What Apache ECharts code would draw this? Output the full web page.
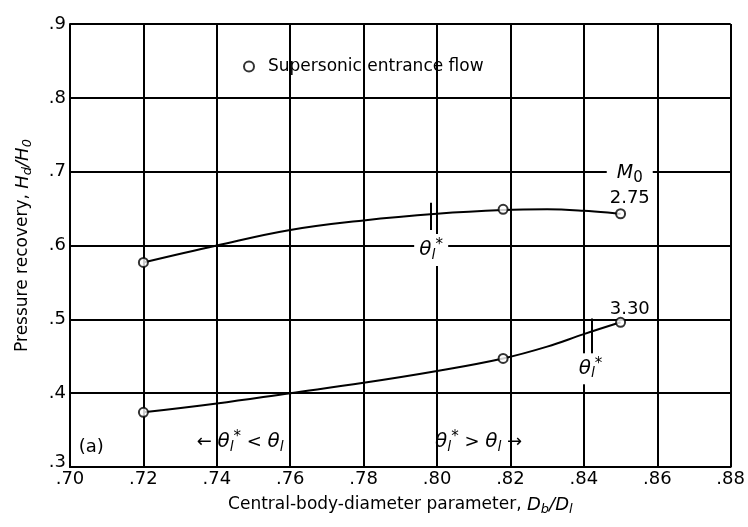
<!DOCTYPE html>
<html><head><meta charset="utf-8">
<script src="https://cdn.jsdelivr.net/npm/echarts@6.0.0/dist/echarts.min.js"></script>
<style>html,body{margin:0;padding:0;background:#fff}#c{width:748px;height:527px}</style>
</head><body><div id="c"></div>
<script>
// x-axis: central-body-diameter parameter Db/Dl
const xTickLabels = ['.70', '.72', '.74', '.76', '.78', '.80', '.82', '.84', '.86', '.88'];
// y-axis: pressure recovery Hd/H0
const yTickLabels = ['.3', '.4', '.5', '.6', '.7', '.8', '.9'];

// measured points (supersonic entrance flow)
const pointX = [0.72, 0.818, 0.85];
const recovery275 = [0.577, 0.649, 0.643]; // M0 = 2.75
const recovery330 = [0.374, 0.447, 0.496]; // M0 = 3.30

// faired curves
const curveX = [0.72, 0.74, 0.76, 0.78, 0.80, 0.818, 0.83, 0.84, 0.85];
const curve275 = [0.577, 0.600, 0.621, 0.634, 0.643, 0.648, 0.649, 0.647, 0.643];
const curve330 = [0.374, 0.386, 0.400, 0.414, 0.430, 0.447, 0.463, 0.480, 0.496];

const machLabels = ['2.75', '3.30'];

const FONT = 'DejaVu Sans';
const pair = (xs, ys) => xs.map((x, i) => [x, ys[i]]);

const thetaRich = {
  i: { fontFamily: FONT, fontSize: 20, fontStyle: 'italic', color: '#000' },
  n: { fontFamily: FONT, fontSize: 18, color: '#000' },
  s: { fontFamily: FONT, fontSize: 14, fontStyle: 'italic', color: '#000', padding: [10, 0, 0, 0] },
  p: { fontFamily: FONT, fontSize: 15, color: '#000', padding: [0, 0, 9, 0] },
  m: { fontFamily: FONT, fontSize: 19, fontStyle: 'italic', color: '#000' },
  ms: { fontFamily: FONT, fontSize: 15, color: '#000', padding: [10, 0, 0, 0] }
};
const thetaStar = '{i|θ}{s|l}{p|*}';
const thetaPlain = '{i|θ}{s|l}';

const lineStyle = { color: '#000', width: 2 };
const pointStyle = { color: '#fff', borderColor: '#000', borderWidth: 2 };

function ann(coord, text, opts) {
  opts = opts || {};
  return {
    coord: coord,
    symbol: 'rect',
    symbolSize: opts.box || [1, 1],
    itemStyle: { color: opts.box ? '#fff' : 'rgba(255,255,255,0)' },
    label: {
      show: true, position: 'inside', formatter: text, rich: thetaRich,
      fontFamily: FONT, fontSize: 18, color: '#000',
      align: opts.align || 'center', verticalAlign: 'middle'
    }
  };
}

const chart = echarts.init(document.getElementById('c'), null, { renderer: 'canvas' });
chart.setOption({
  animation: false,
  backgroundColor: '#fff',
  grid: { left: 70, right: 16, top: 24, bottom: 60 },
  legend: {
    data: ['Supersonic entrance flow'],
    left: 238, top: 53,
    icon: 'circle', itemWidth: 10, itemHeight: 10,
    textStyle: { fontFamily: FONT, fontSize: 17, color: '#000', padding: [0, 0, 0, 9] }
  },
  xAxis: {
    type: 'value', min: 0.70, max: 0.88, interval: 0.02,
    name: 'Central-body-diameter parameter, {i|D}{s|b}{i|/D}{s|l}',
    nameLocation: 'middle', nameGap: 27,
    nameTextStyle: {
      fontFamily: FONT, fontSize: 17, color: '#000',
      rich: {
        i: { fontFamily: FONT, fontSize: 18, fontStyle: 'italic', color: '#000' },
        s: { fontFamily: FONT, fontSize: 13, fontStyle: 'italic', color: '#000', padding: [9, 0, 0, 0] }
      }
    },
    axisLine: { show: true, lineStyle: { color: '#000', width: 2 } },
    axisTick: { show: false },
    splitLine: { show: true, lineStyle: { color: '#000', width: 2 } },
    axisLabel: {
      fontFamily: FONT, fontSize: 18, color: '#000', margin: 3,
      formatter: v => xTickLabels[Math.round((v - 0.70) / 0.02)]
    }
  },
  yAxis: {
    type: 'value', min: 0.3, max: 0.9, interval: 0.1,
    name: 'Pressure recovery, {i|H}{s|d}{i|/H}{s|0}',
    nameLocation: 'middle', nameGap: 36,
    nameTextStyle: {
      fontFamily: FONT, fontSize: 17, color: '#000',
      rich: {
        i: { fontFamily: FONT, fontSize: 18, fontStyle: 'italic', color: '#000' },
        s: { fontFamily: FONT, fontSize: 13, fontStyle: 'italic', color: '#000', padding: [9, 0, 0, 0] }
      }
    },
    axisLine: { show: true, lineStyle: { color: '#000', width: 2 } },
    axisTick: { show: false },
    splitLine: { show: true, lineStyle: { color: '#000', width: 2 } },
    axisLabel: {
      fontFamily: FONT, fontSize: 18, color: '#000', margin: 4,
      formatter: v => {
        const i = Math.round((v - 0.3) / 0.1);
        return i === 0 ? '{low|' + yTickLabels[0] + '}' : yTickLabels[i];
      },
      rich: { low: { fontFamily: FONT, fontSize: 18, color: '#000', padding: [0, 0, 9, 0] } }
    }
  },
  series: [
    {
      type: 'line', name: 'M0 2.75 curve', data: pair(curveX, curve275),
      smooth: 0.4, showSymbol: false, symbol: 'none', lineStyle: lineStyle, z: 3,
      markLine: {
        silent: true, symbol: ['none', 'none'], label: { show: false },
        lineStyle: { color: '#000', width: 2, type: 'solid' },
        data: [
          [{ coord: [0.7984, 0.621] }, { coord: [0.7984, 0.658] }],
          [{ coord: [0.8422, 0.453] }, { coord: [0.8422, 0.501] }]
        ]
      },
      markPoint: {
        silent: true,
        data: [
          ann([0.8525, 0.698], '{m|M}{ms|0}', { box: [46, 26] }),
          ann([0.8525, 0.664], machLabels[0]),
          ann([0.8525, 0.514], machLabels[1]),
          ann([0.7984, 0.594], thetaStar, { box: [34, 32] }),
          ann([0.8418, 0.433], thetaStar, { box: [30, 31] }),
          ann([0.7058, 0.326], '(a)'),
          ann([0.7345, 0.334], '← ' + thetaStar + '{n| < }' + thetaPlain, { align: 'left' }),
          ann([0.8232, 0.334], thetaStar + '{n| > }' + thetaPlain + '{n| →}', { align: 'right' })
        ]
      }
    },
    {
      type: 'line', name: 'M0 3.30 curve', data: pair(curveX, curve330),
      smooth: 0.4, showSymbol: false, symbol: 'none', lineStyle: lineStyle, z: 3
    },
    {
      type: 'scatter', name: 'Supersonic entrance flow', data: pair(pointX, recovery275),
      symbol: 'circle', symbolSize: 9, itemStyle: pointStyle, z: 5
    },
    {
      type: 'scatter', name: 'Supersonic entrance flow', data: pair(pointX, recovery330),
      symbol: 'circle', symbolSize: 9, itemStyle: pointStyle, z: 5
    }
  ]
});
</script>
</body></html>
